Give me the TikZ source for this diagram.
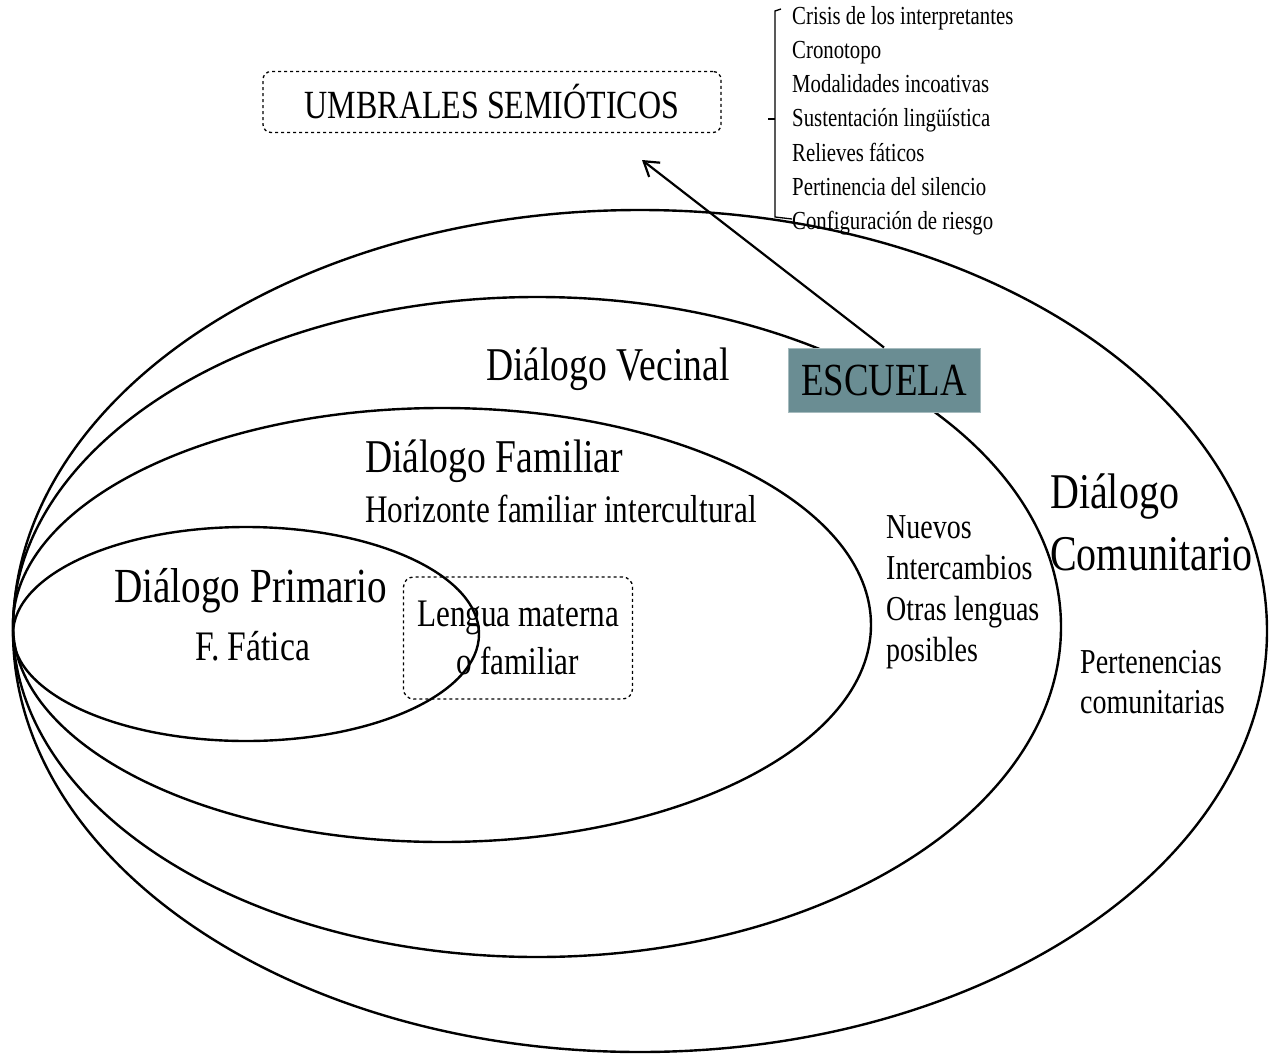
\documentclass[tikz,border=0pt]{standalone}
\usepackage{fontspec}
\setmainfont{Liberation Serif}[FakeStretch=0.8]
\usetikzlibrary{arrows.meta,positioning}
\definecolor{escuela}{RGB}{106,141,147}
\newcommand{\tam}[2]{\fontsize{#1}{#2}\selectfont}

\begin{document}
\begin{tikzpicture}[x=1pt,y=-1pt,>={Straight Barb[length=14pt,width=18pt]},
  zona/.style={line width=2.4pt},
  umbral/.style={draw,dashed,rounded corners=8pt,line width=1.3pt},
  rotulo/.style={anchor=base west,inner sep=0pt,align=left}]
\useasboundingbox (0,0) rectangle (1274,1054);
% dialogos
\draw[zona] (640,631) ellipse [x radius=627,y radius=421];
\draw[zona] (537,627) ellipse [x radius=524,y radius=330];
\draw[zona] (442,625) ellipse [x radius=429,y radius=217];
\draw[zona] (246,634) ellipse [x radius=233,y radius=107];

\node[umbral,minimum width=458pt,minimum height=61pt,font=\tam{40}{40}] (umbrales) at (492,102) {UMBRALES SEMIÓTICOS};
\node[umbral,rounded corners=10pt,minimum width=229pt,minimum height=122pt,align=center,font=\tam{39}{48}] (lengua) at (518,638) {Lengua materna\\o familiar};
\node[fill=escuela,draw=escuela!60!white,line width=1pt,minimum width=192pt,minimum height=64pt,inner sep=0pt,font=\tam{46}{46}] (escuela) at (884,380) {ESCUELA};
\coordinate (punta) at (642,160);
\draw[->,line width=2.2pt] (escuela.north) -- (punta);

\node[rotulo,font=\tam{47}{47}] (vecinal) at (486,380) {Diálogo Vecinal};
\node[rotulo,font=\tam{47}{47}] (familiar) at (365,472) {Diálogo Familiar};
\node[rotulo,font=\tam{39}{39}] (horizonte) at (365,522) {Horizonte familiar intercultural};
\node[rotulo,font=\tam{49}{49}] (primario) at (114,602) {Diálogo Primario};
\node[rotulo,font=\tam{42}{42}] (fatica) at (195,660) {F. Fática};
% base de la ultima linea
\node[rotulo,font=\tam{50}{62}] (comunitario) at (1050,570) {Diálogo\\Comunitario};
\node[rotulo,font=\tam{35}{41}] (nuevos) at (886,661) {Nuevos\\Intercambios\\Otras lenguas\\posibles};
\node[rotulo,font=\tam{35}{40}] (pertenencias) at (1080,713) {Pertenencias\\comunitarias};

% umbrales
\draw[line width=1.3pt] (781,9) -- (775,11) -- (775,217) -- (792,219);
\draw[line width=2.4pt] (768,119) -- (775,119);
\foreach \t [count=\i] in {Crisis de los interpretantes,Cronotopo,Modalidades incoativas,
  Sustentación lingüística,Relieves fáticos,Pertinencia del silencio,Configuración de riesgo}
  \node[rotulo,font=\tam{26}{26}] (item\i) at (792,-9+34*\i) {\t};
\end{tikzpicture}
\end{document}
